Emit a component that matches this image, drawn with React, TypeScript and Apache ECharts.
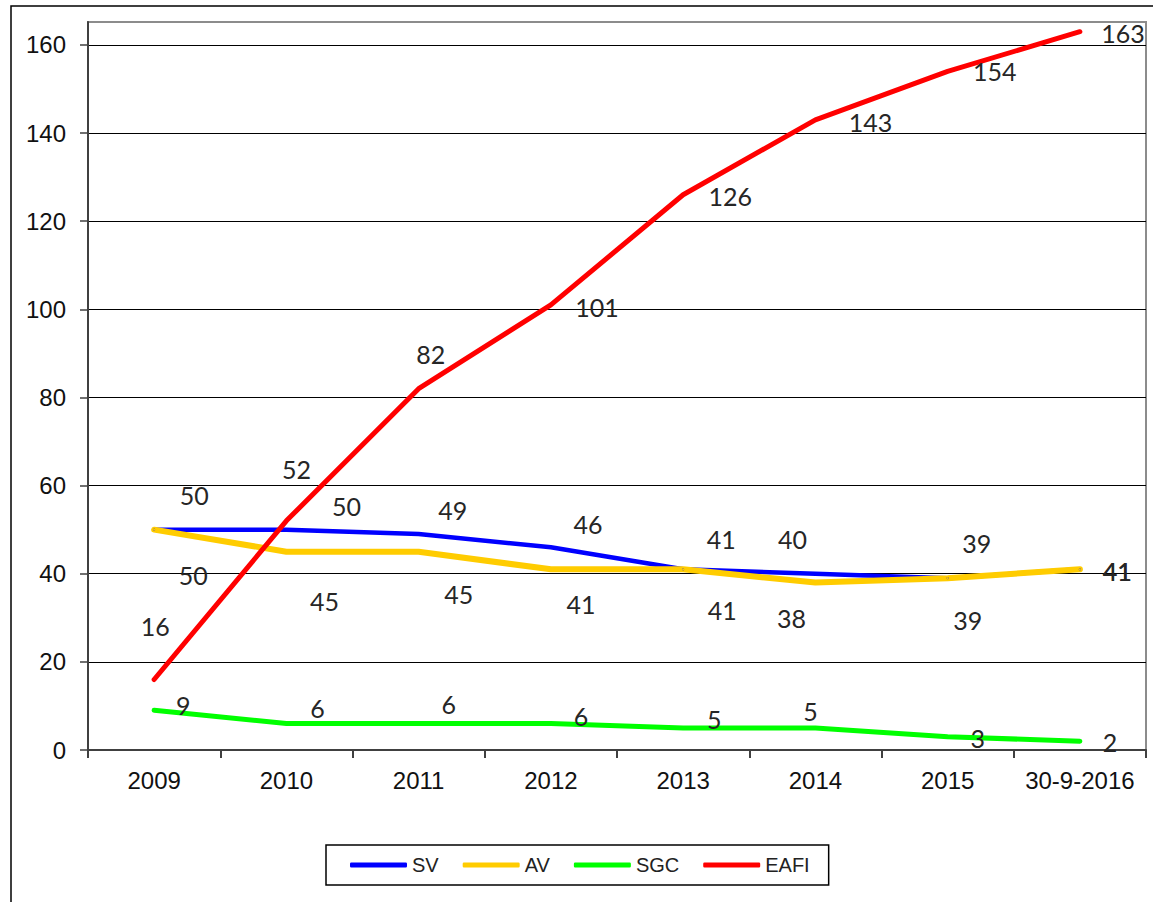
import React, { useEffect, useRef } from "react";
import * as echarts from "echarts";

const categories = ["2009", "2010", "2011", "2012", "2013", "2014", "2015", "30-9-2016"];
const svValues = [50, 50, 49, 46, 41, 40, 39, 41];
const avValues = [50, 45, 45, 41, 41, 38, 39, 41];
const sgcValues = [9, 6, 6, 6, 5, 5, 3, 2];
const eafiValues = [16, 52, 82, 101, 126, 143, 154, 163];
const yTicks = [0, 20, 40, 60, 80, 100, 120, 140, 160];

// label placement offsets (pixels, relative to the point)
const svLabelOffsets = [[40, -35], [60, -24], [34, -24], [37, -23], [38, -30], [-23, -35], [29, -35], [37, 2]];
const avLabelOffsets = [[39, 45], [38, 49], [40, 42], [30, 35], [39, 41], [-24, 35], [20, 42], [37.6, 2]];
const sgcLabelOffsets = [[29, -5], [31, -16], [30, -20], [30, -8], [31, -9], [-5, -17], [30, 1], [30, 1]];
const eafiLabelOffsets = [[1, -53], [10, -52], [12, -35], [46, 2], [47, 1], [55, 2], [47, 0], [43, 1]];

const LABEL_FONT = "Lato, 'Noto Sans', sans-serif";
const AXIS_FONT = "'Liberation Sans', Arial, sans-serif";

function buildSeries(name: string, values: number[], offsets: number[][], color: string, width: number) {
  return {
    name,
    type: "line",
    symbol: "circle",
    symbolSize: 2,
    showSymbol: true,
    itemStyle: { color },
    lineStyle: { color, width, cap: "round", join: "round" },
    emphasis: { disabled: true },
    data: values.map((v, i) => ({
      value: v,
      label: { offset: offsets[i] },
    })),
    label: {
      show: true,
      position: "inside",
      color: "#262626",
      fontFamily: LABEL_FONT,
      fontSize: 25,
      align: "center",
      verticalAlign: "middle",
    },
  };
}

export default function App() {
  const ref = useRef<HTMLDivElement>(null);
  useEffect(() => {
    if (!ref.current) return;
    const chart = echarts.init(ref.current, undefined, { renderer: "svg" });
    chart.setOption({
      animation: false,
      backgroundColor: "#ffffff",
      graphic: [
        {
          type: "rect",
          shape: { x: 11, y: 6, width: 1160, height: 920 },
          style: { fill: "none", stroke: "#000", lineWidth: 1.5 },
          silent: true,
          z: -1,
        },
      ],
      grid: {
        left: 88,
        top: 22,
        right: 7,
        bottom: 152,
        show: true,
        borderColor: "#8c8c8c",
        borderWidth: 2,
        containLabel: false,
      },
      legend: {
        left: 326,
        top: 845,
        padding: [10, 19, 10, 24],
        borderColor: "#000",
        borderWidth: 1.5,
        itemGap: 24,
        itemWidth: 57,
        itemHeight: 5,
        icon: "roundRect",
        textStyle: { fontFamily: AXIS_FONT, fontSize: 20, color: "#222" },
        data: ["SV", "AV", "SGC", "EAFI"],
      },
      xAxis: {
        type: "category",
        data: categories,
        boundaryGap: true,
        axisLine: { show: true, lineStyle: { color: "#404040", width: 2 } },
        axisTick: { show: true, length: 8, alignWithLabel: false, lineStyle: { color: "#404040", width: 2 } },
        axisLabel: { margin: 18, fontFamily: AXIS_FONT, fontSize: 24, color: "#111", interval: 0 },
        splitLine: { show: false },
      },
      yAxis: {
        type: "value",
        min: 0,
        max: 165.2,
        interval: 20,
        axisLine: { show: true, lineStyle: { color: "#404040", width: 2 } },
        axisTick: { show: true, length: 8, inside: false, customValues: yTicks, lineStyle: { color: "#404040", width: 1.5 } },
        axisLabel: {
          margin: 22,
          fontFamily: AXIS_FONT,
          fontSize: 24,
          color: "#111",
          customValues: yTicks,
        },
        splitLine: { show: true, lineStyle: { color: "#000", width: 1.2 } },
      },
      series: [
        buildSeries("SV", svValues, svLabelOffsets, "#0000ff", 4.5),
        buildSeries("AV", avValues, avLabelOffsets, "#ffcc00", 6),
        buildSeries("SGC", sgcValues, sgcLabelOffsets, "#00ff00", 5),
        buildSeries("EAFI", eafiValues, eafiLabelOffsets, "#ff0000", 5),
      ],
    });
    return () => chart.dispose();
  }, []);
  return (
    <div
      ref={ref}
      style={{ position: "fixed", left: 0, top: 0, width: 1153, height: 902, background: "#fff" }}
    />
  );
}
